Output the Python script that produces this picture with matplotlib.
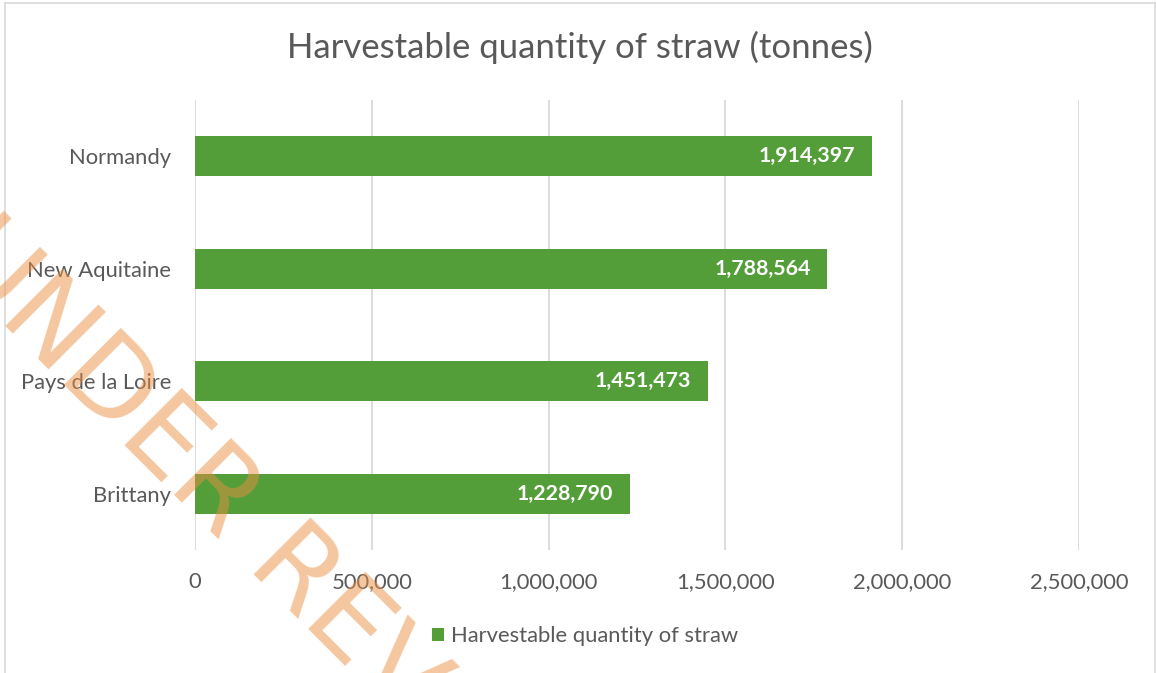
import matplotlib
matplotlib.use("Agg")
import matplotlib.pyplot as plt
from matplotlib.lines import Line2D
from matplotlib.patches import Patch
from matplotlib.ticker import FuncFormatter


REGIONS = ["Normandy", "New Aquitaine", "Pays de la Loire", "Brittany"]
STRAW_TONNES = [1914397, 1788564, 1451473, 1228790]
X_TICKS = [0, 500000, 1000000, 1500000, 2000000, 2500000]

GREEN = "#549e39"
TEXT = "#595959"
GRID = "#d9d9d9"
STAMP = "#e98f41"

plt.rcParams["font.family"] = ["Lato", "DejaVu Sans"]

W, H = 1156, 673
fig = plt.figure(figsize=(W / 100, H / 100), dpi=100, facecolor="white")

# plot area in pixel terms: x 195..1079, y 100..550
ax = fig.add_axes([195 / W, 1 - 550 / H, (1079 - 195) / W, 450 / H])

ypos = list(range(len(REGIONS)))[::-1]
bars = ax.barh(ypos, STRAW_TONNES, height=0.355, color=GREEN, zorder=3)

for y, v in zip(ypos, STRAW_TONNES):
    ax.annotate(f"{v:,}", xy=(v, y), xytext=(-12, 0), textcoords="offset points",
                ha="right", va="center", color="white", fontsize=15.4,
                fontweight="bold", zorder=4)

ax.set_xlim(0, X_TICKS[-1])
ax.set_ylim(-0.5, len(REGIONS) - 0.5)
ax.set_xticks(X_TICKS)
ax.xaxis.set_major_formatter(FuncFormatter(lambda v, _: f"{int(v):,}"))
ax.set_yticks(ypos)
ax.set_yticklabels(REGIONS)
ax.tick_params(axis="x", length=0, pad=16, labelsize=15.8, labelcolor=TEXT)
ax.tick_params(axis="y", length=0, pad=17, labelsize=15.8, labelcolor=TEXT)
ax.grid(axis="x", color=GRID, linewidth=1.3, zorder=0)
for side in ax.spines.values():
    side.set_visible(False)

fig.text(0.502, 1 - 47 / H, "Harvestable quantity of straw (tonnes)",
         ha="center", va="center", fontsize=25, color=TEXT)

fig.legend(handles=[Patch(facecolor=GREEN, edgecolor="none",
                          label="Harvestable quantity of straw")],
           loc="center", bbox_to_anchor=(585 / W, 1 - 636 / H), frameon=False,
           fontsize=15.8, labelcolor=TEXT, handlelength=0.55, handleheight=0.55,
           handletextpad=0.3, borderpad=0)

# chart frame
for xs, ys in [([4.5, 4.5], [0, H - 2.5]), ([4.5, W - 1], [H - 2.5, H - 2.5]),
               ([W - 1, W - 1], [0, H - 2.5])]:
    fig.add_artist(Line2D([x / W for x in xs], [y / H for y in ys],
                          color=GRID, linewidth=1.2))

# review stamp across the chart
fig.text(268 / W, 1 - 546 / H, "UNDER REVIEW", ha="center", va="center",
         rotation=-45, rotation_mode="anchor", fontsize=80,
         family="DejaVu Sans", color=STAMP, alpha=0.5, zorder=10)

fig.savefig("out.png", dpi=100, facecolor="white")
